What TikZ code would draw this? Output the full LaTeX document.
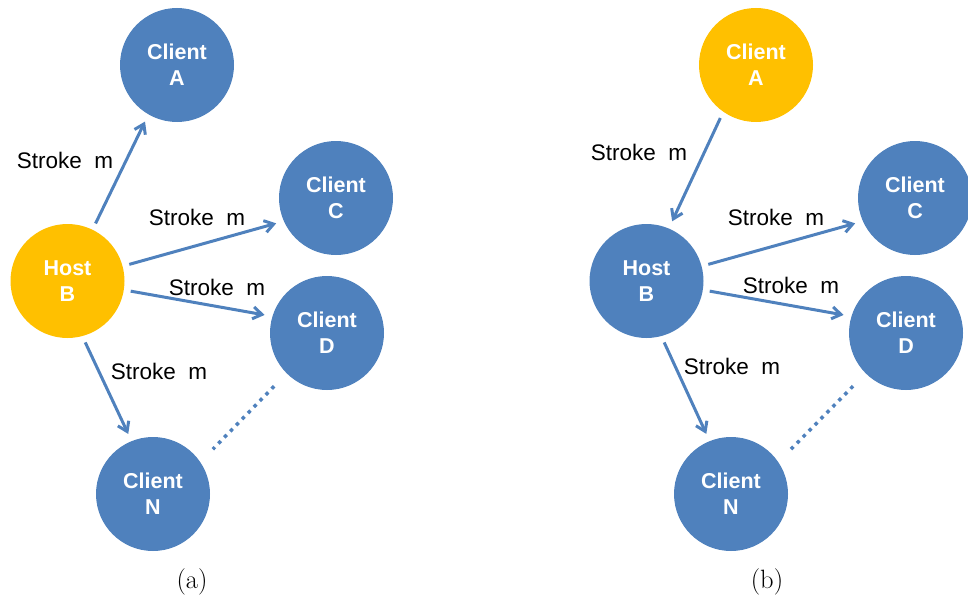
\documentclass[tikz,border=0pt]{standalone}
\usepackage{fontspec}
\newfontfamily\arialfont{Liberation Sans}
\usetikzlibrary{arrows.meta}
\definecolor{nodeblue}{RGB}{79,129,189}
\definecolor{hostgold}{RGB}{255,192,0}

\begin{document}
\begin{tikzpicture}[
  x=1pt, y=-1pt,
  peer/.style={circle, fill=nodeblue, minimum size=114pt, inner sep=0pt, outer sep=0pt,
               text=white, align=center,
               font=\arialfont\bfseries\fontsize{21.5}{26}\selectfont},
  lead/.style={peer, fill=hostgold},
  link/.style={draw=nodeblue, line width=3pt,
               -{Straight Barb[length=9pt,width=12pt]},
               shorten <=7pt, shorten >=8pt},
  more/.style={draw=nodeblue, line width=3.5pt, dash pattern=on 3.5pt off 5pt,
               shorten <=18pt, shorten >=18pt},
  lbl/.style={font=\arialfont\fontsize{22.5}{27}\selectfont, text=black},
  subcap/.style={font=\fontsize{26.5}{30}\selectfont}
]
\useasboundingbox (0,0) rectangle (968,599);

% (a) host B sends to every client
\node[peer] (clA) at (177,65) {Client\\A};
\node[lead] (host) at (67.5,281) {Host\\B};
\node[peer] (clC) at (336,198) {Client\\C};
\node[peer] (clD) at (327,333) {Client\\D};
\node[peer] (clN) at (153,494) {Client\\N};
\draw[link] (host.64) -- (clA.240);
\draw[link] (host.15) -- (clC.204);
\draw[link] (host.-9) -- (clD.163);
\draw[link] (host.-75) -- (clN.112);
\draw[more] (clD.225) -- (clN.34);
\node[lbl] (sA) at (65,160) {Stroke\ \ m};
\node[lbl] (sC) at (197,217) {Stroke\ \ m};
\node[lbl] (sD) at (217,287) {Stroke\ \ m};
\node[lbl] (sN) at (159,371) {Stroke\ \ m};
\node[subcap] (capa) at (192,582) {(a)};

% (b) client A goes through host B
\node[lead] (clA2) at (756,65) {Client\\A};
\node[peer] (host2) at (646.5,281) {Host\\B};
\node[peer] (clC2) at (915,198) {Client\\C};
\node[peer] (clD2) at (906,333) {Client\\D};
\node[peer] (clN2) at (731,494) {Client\\N};
\draw[link] (clA2.235) -- (host2.67);
\draw[link] (host2.15) -- (clC2.204);
\draw[link] (host2.-9) -- (clD2.163);
\draw[link] (host2.-75) -- (clN2.112);
\draw[more] (clD2.225) -- (clN2.34);
\node[lbl] (sA2) at (639,152) {Stroke\ \ m};
\node[lbl] (sC2) at (776,217) {Stroke\ \ m};
\node[lbl] (sD2) at (791,285) {Stroke\ \ m};
\node[lbl] (sN2) at (732,366) {Stroke\ \ m};
\node[subcap] (capb) at (767,582) {(b)};
\end{tikzpicture}
\end{document}
